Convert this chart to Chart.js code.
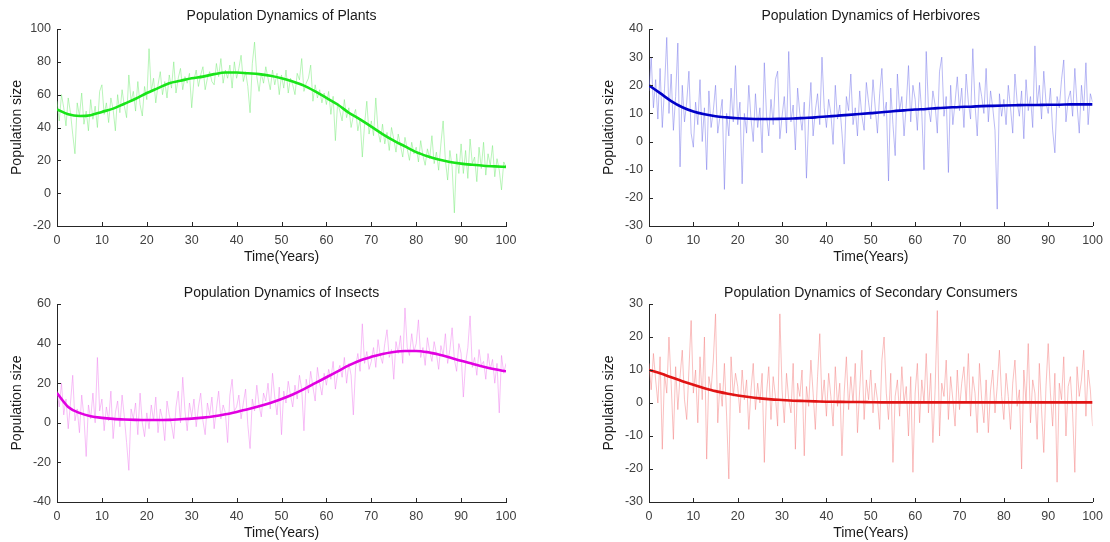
<!DOCTYPE html>
<html>
<head>
<meta charset="utf-8">
<title>Population Dynamics</title>
<script src="https://cdn.jsdelivr.net/npm/chart.js@4/dist/chart.umd.min.js"></script>
<style>
  html, body { margin: 0; padding: 0; background: #fff; }
  .panel { position: absolute; }
</style>
</head>
<body>
<canvas id="plants" class="panel" width="555" height="271" style="left:0;top:0"></canvas>
<canvas id="herbivores" class="panel" width="555" height="271" style="left:555px;top:0"></canvas>
<canvas id="insects" class="panel" width="555" height="271" style="left:0;top:271px"></canvas>
<canvas id="secondary" class="panel" width="555" height="271" style="left:555px;top:271px"></canvas>
<script>
// sampling of the two kinds of series (years)
const noiseStep = 0.5;
const trendStep = 2.5;
const xTicks = [0, 10, 20, 30, 40, 50, 60, 70, 80, 90, 100];

// Plants
const plantsNoise = [
  56, 44, 60, 52, 41, 58, 49, 36, 24, 55, 47, 61, 42, 50, 38, 57, 45, 53, 40, 62,
  66, 48, 55, 43, 58, 51, 38, 60, 49, 63, 53, 46, 72, 56, 62, 50, 68, 54, 47, 65,
  57, 88, 62, 70, 55, 66, 74, 60, 68, 58, 72, 64, 80, 61, 70, 76, 63, 71, 67, 73,
  52, 69, 75, 65, 72, 77, 63, 70, 74, 68, 66, 79, 71, 82, 67, 75, 70, 78, 64, 80,
  70, 76, 84, 68, 74, 65, 49, 79, 92, 71, 62, 73, 67, 77, 70, 63, 75, 66, 73, 60,
  72, 64, 75, 61, 70, 66, 60, 73, 69, 82, 62, 67, 70, 78, 56, 66, 58, 63, 55, 61,
  54, 62, 48, 59, 32, 55, 50, 44, 57, 46, 52, 40, 47, 51, 38, 45, 22, 42, 56, 36,
  44, 35, 58, 38, 31, 42, 30, 37, 26, 40, 33, 25, 36, 29, 22, 34, 27, 20, 31, 24,
  28, 19, 32, 23, 17, 27, 21, 35, 18, 25, 14, 30, 44, 20, 8, 26, 16, -12, 24, 12,
  30, 12, 26, 9, 33, 18, 22, 7, 28, 15, 31, 11, 24, 17, 29, 10, 21, 14, 2, 19,
  16
];
const plantsTrend = [
  51, 48, 47, 47.5, 49.5, 51.5, 54.5, 57.5, 61, 64, 67, 68.5, 70, 71, 72.5, 73.5,
  73.5, 73, 72.5, 71.5, 70, 68, 65.5, 62, 58, 54, 49, 45, 40.5, 36, 32, 28.5,
  25, 22.5, 20.5, 19, 18, 17.3, 16.7, 16.3, 16
];
const plantsTicks = [-20, 0, 20, 40, 60, 80, 100];

// Herbivores
const herbNoise = [
  18, 30, 12, 22, 8, 26, 5, 19, 37, 10, 24, 4, 16, 35, -9, 20, 7, 14, 25, 3,
  -2, 14, 6, 22, 0, 12, -10, 18, 5, 11, 20, 3, 9, 15, -17, 10, 2, 19, 7, 27,
  6, 14, -15, 10, 3, 20, 8, 0, 17, 5, 12, -4, 28, 9, 2, 15, 6, 22, 25, 1,
  9, 16, 3, 32, 7, 13, -3, 19, 10, 4, 14, -13, 8, 21, 2, 11, 17, 6, 30, 12,
  5, 15, 10, -1, 20, 8, 13, 3, -8, 16, 11, 24, 6, 12, 2, 18, 9, 4, 21, 14,
  8, 22, 12, 3, 17, 26, 9, 14, -14, 19, 6, -5, 24, 11, 16, 2, 13, 27, 7, 20,
  15, 4, 21, 10, -10, 32, 12, 7, 18, 13, 3, 25, 30, 9, 16, -11, 20, 6, 14, 23,
  11, 19, 5, 24, 14, 8, 33, 13, 2, 21, 16, 10, 26, 7, 18, 12, 4, -24, 17, 9,
  15, 6, 20, 12, 3, 24, 14, 9, 18, 1, 22, 11, 16, 5, 34, 13, 20, 8, 25, 14,
  10, 19, 4, -4, 16, 12, 22, 29, 7, 15, 18, 9, 26, 13, 3, 20, 11, 28, 6, 17,
  14
];
const herbTrend = [
  20, 17.2, 14.4, 12.2, 10.7, 9.7, 9, 8.6, 8.3, 8.1, 8, 8, 8.1, 8.2, 8.4, 8.6,
  8.9, 9.2, 9.5, 9.8, 10.1, 10.4, 10.8, 11.1, 11.4, 11.6, 11.9, 12.1, 12.3, 12.4,
  12.6, 12.7, 12.8, 12.9, 13, 13, 13.1, 13.1, 13.2, 13.2, 13.2
];
const herbTicks = [-30, -20, -10, 0, 10, 20, 30, 40];

// Insects
const insectNoise = [
  16, 8, 20, 4, 12, -3, 10, 24, 1, 7, -5, 14, 3, -17, 9, 2, 15, 0, 33, 6,
  12, -4, 8, 1, 16, -8, 5, 11, -2, 14, 3, -10, -24, 7, 2, 10, -6, 15, 0, -7,
  5, -3, 9, 1, 13, -5, 7, 2, -9, 11, 4, -1, -8, 8, 16, 0, 23, 6, -4, 10,
  3, 12, -2, 8, 15, 1, -6, 10, 4, 13, -3, 7, 16, 2, 9, 5, -10, 14, 22, 6,
  8, 14, 2, 10, 17, -1, -13, 12, 6, 19, 9, 3, 15, 11, 20, 7, 25, 13, 4, 18,
  -6, 16, 10, 21, 14, 8, 19, 12, 24, 17, -4, 22, 15, 26, 18, 11, 28, 20, 14, 25,
  19, 27, 22, 31, 17, 25, 29, 23, 33, 20, 30, 24, 4, 28, 35, 26, 50, 30, 36, 27,
  31, 38, 28, 42, 34, 30, 40, 47, 33, 37, 22, 41, 35, 44, 30, 58, 38, 34, 45, 36,
  40, 52, 33, 38, 29, 43, 36, 31, 41, 35, 27, 39, 34, 45, 30, 37, 48, 32, 26, 40,
  35, 13, 30, 38, 54, 28, 33, 24, 37, 29, 31, 22, 35, 27, 32, 20, 30, 5, 34, 25,
  30
];
const insectTrend = [
  15, 8, 5, 3.3, 2.5, 2, 1.7, 1.5, 1.4, 1.4, 1.5, 1.8, 2.1, 2.6, 3.3, 4.3,
  5.5, 6.8, 8.3, 10, 12, 14.3, 17, 20, 23, 26, 29, 31.5, 33.3, 34.8, 35.8, 36.3,
  36.3, 35.7, 34.5, 33, 31.3, 29.8, 28.3, 27, 26
];
const insectTicks = [-40, -20, 0, 20, 40, 60];

// Secondary consumers
const secNoise = [
  12, 4, 15, 7, 0, 14, -14, 9, 3, 20, 6, -11, 11, -2, 8, 16, 1, -5, 10, 25,
  3, 10, -6, 14, 1, 20, -17, 8, 4, 13, 27, -6, 6, -1, 12, -4, -23, 14, 2, 9,
  5, -3, 10, 1, 7, -8, 4, 12, -2, 6, 0, 9, -18, 3, 11, -5, 8, 2, -7, 27,
  4, -6, 9, 1, -3, 12, -14, 6, 2, 10, -16, 5, -1, 13, 3, -8, 8, 21, 0, 7,
  -4, 9, 2, -7, 11, -1, 6, -16, 3, 14, -2, 8, 0, 12, -9, 4, 16, -5, 7, 1,
  10, -3, 6, 1, -8, 13, 20, 3, -5, 9, -18, 2, 7, -4, 11, 0, 5, -10, 8, -21,
  3, 12, -6, 7, 0, 15, -3, 9, -12, 4, 28, -10, 6, 2, 13, -5, 8, 1, -7, 10,
  -2, 6, 11, 0, 15, -4, 8, 3, -9, 12, 1, -6, 7, -9, 4, 10, -3, 5, 16, 2,
  -5, 9, 2, -8, 6, 13, -1, 4, -20, 10, 0, 18, -6, 7, 3, -11, 12, -2, -15, 5,
  18, 3, -7, 9, -24, 6, 1, 14, -10, 5, 8, -3, -21, 11, 2, 7, 16, -4, 10, 4,
  -7
];
const secTrend = [
  10, 9, 7.8, 6.6, 5.5, 4.5, 3.6, 2.9, 2.3, 1.8, 1.4, 1.1, 0.9, 0.7, 0.6, 0.5,
  0.4, 0.35, 0.3, 0.3, 0.25, 0.2, 0.2, 0.2, 0.2, 0.2, 0.2, 0.2, 0.2, 0.2, 0.2,
  0.2, 0.2, 0.2, 0.2, 0.2, 0.2, 0.2, 0.2, 0.2, 0.2
];
const secTicks = [-30, -20, -10, 0, 10, 20, 30];

const fontFamily = 'Arial, "Liberation Sans", Helvetica, sans-serif';
const axisColor = "#262626";
const labelColor = "#404040";

function points(values, step) {
  return values.map((v, i) => ({ x: i * step, y: v }));
}

// MATLAB-style inward tick marks
const inwardTicks = {
  id: "inwardTicks",
  afterDatasetsDraw(chart) {
    const { ctx, chartArea, scales } = chart;
    ctx.save();
    ctx.strokeStyle = axisColor;
    ctx.lineWidth = 1;
    ctx.beginPath();
    scales.x.ticks.forEach((t) => {
      const px = Math.round(scales.x.getPixelForValue(t.value)) + 0.5;
      ctx.moveTo(px, chartArea.bottom);
      ctx.lineTo(px, chartArea.bottom - 4);
    });
    scales.y.ticks.forEach((t) => {
      const py = Math.round(scales.y.getPixelForValue(t.value)) + 0.5;
      ctx.moveTo(chartArea.left, py);
      ctx.lineTo(chartArea.left + 4, py);
    });
    ctx.stroke();
    ctx.restore();
  }
};

function makePanel(id, opts) {
  const yTicks = opts.ticks;
  new Chart(document.getElementById(id), {
    type: "line",
    data: {
      datasets: [
        {
          data: points(opts.trend, trendStep),
          borderColor: opts.color,
          borderWidth: 2.6,
          pointRadius: 0,
          cubicInterpolationMode: "monotone"
        },
        {
          data: points(opts.noise, noiseStep),
          borderColor: opts.light,
          borderWidth: 1,
          pointRadius: 0,
          tension: 0
        }
      ]
    },
    options: {
      responsive: false,
      animation: false,
      events: [],
      layout: { padding: opts.padding },
      plugins: {
        legend: { display: false },
        tooltip: { enabled: false },
        title: {
          display: true,
          text: opts.title,
          fullSize: false,
          color: "#1a1a1a",
          font: { family: fontFamily, size: 14, weight: "normal" },
          padding: opts.titlePadding
        }
      },
      scales: {
        x: {
          type: "linear",
          min: 0,
          max: 100,
          afterBuildTicks(scale) {
            scale.ticks = xTicks.map((v) => ({ value: v }));
          },
          grid: { display: false, drawTicks: false, tickLength: 0 },
          border: { display: true, color: axisColor, width: 1 },
          ticks: {
            color: labelColor,
            padding: 7,
            maxRotation: 0,
            autoSkip: false,
            font: { family: fontFamily, size: 12.5 }
          },
          title: {
            display: true,
            text: "Time(Years)",
            color: "#1a1a1a",
            font: { family: fontFamily, size: 14 },
            padding: { top: 0, bottom: opts.xTitlePad }
          },
          afterFit(scale) {
            scale.height = opts.xHeight;
          }
        },
        y: {
          type: "linear",
          min: yTicks[0],
          max: yTicks[yTicks.length - 1],
          afterBuildTicks(scale) {
            scale.ticks = yTicks.map((v) => ({ value: v }));
          },
          grid: { display: false, drawTicks: false, tickLength: 0 },
          border: { display: true, color: axisColor, width: 1 },
          ticks: {
            color: labelColor,
            padding: 6,
            autoSkip: false,
            font: { family: fontFamily, size: 12.5 }
          },
          title: {
            display: true,
            text: "Population size",
            color: "#1a1a1a",
            font: { family: fontFamily, size: 14 },
            padding: { top: 8.5, bottom: 0 }
          },
          afterFit(scale) {
            scale.width = 57;
          }
        }
      }
    },
    plugins: [inwardTicks]
  });
}

const topTitlePad = { top: 7.6, bottom: 4.6 };
const bottomTitlePad = { top: 13.9, bottom: 2.3 };

makePanel("plants", {
  title: "Population Dynamics of Plants",
  noise: plantsNoise, trend: plantsTrend, ticks: plantsTicks,
  color: "rgb(25, 228, 25)", light: "rgba(120, 235, 120, 0.5)",
  padding: { left: 0, right: 49, top: 0, bottom: 0 },
  titlePadding: topTitlePad, xHeight: 45, xTitlePad: 5.6
});
makePanel("herbivores", {
  title: "Population Dynamics of Herbivores",
  noise: herbNoise, trend: herbTrend, ticks: herbTicks,
  color: "rgb(0, 0, 200)", light: "rgba(120, 120, 235, 0.5)",
  padding: { left: 37, right: 13, top: 0, bottom: 0 },
  titlePadding: topTitlePad, xHeight: 45, xTitlePad: 5.6
});
makePanel("insects", {
  title: "Population Dynamics of Insects",
  noise: insectNoise, trend: insectTrend, ticks: insectTicks,
  color: "rgb(225, 0, 225)", light: "rgba(240, 130, 240, 0.5)",
  padding: { left: 0, right: 49, top: 0, bottom: 0 },
  titlePadding: bottomTitlePad, xHeight: 40, xTitlePad: 0.6
});
makePanel("secondary", {
  title: "Population Dynamics of Secondary Consumers",
  noise: secNoise, trend: secTrend, ticks: secTicks,
  color: "rgb(225, 20, 20)", light: "rgba(245, 130, 130, 0.5)",
  padding: { left: 37, right: 13, top: 0, bottom: 0 },
  titlePadding: bottomTitlePad, xHeight: 40, xTitlePad: 0.6
});
</script>
</body>
</html>
